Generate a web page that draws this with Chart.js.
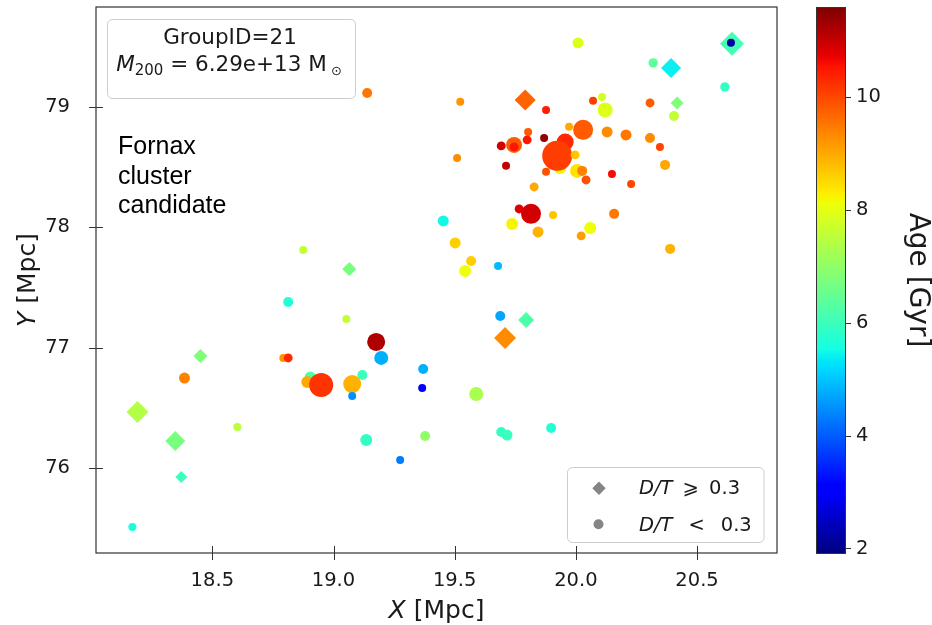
<!DOCTYPE html>
<html>
<head>
<meta charset="utf-8">
<script src="https://cdn.jsdelivr.net/npm/chart.js@4.4.1/dist/chart.umd.min.js"></script>
<style>
  html, body { margin: 0; padding: 0; background: #fff; }
  #wrap { width: 932px; height: 625px; }
</style>
</head>
<body>
<div id="wrap"><canvas id="group-chart" width="932" height="625"></canvas></div>
<script>
// Group 21 (Fornax cluster candidate): galaxy positions, coloured by stellar age

// disc galaxies, D/T >= 0.3 (diamonds)
const discX = [20.644, 20.393, 19.791, 20.418, 19.795, 19.708, 19.065, 18.451, 18.191, 18.347, 18.372];
const discY = [79.524, 79.324, 79.058, 79.033, 77.229, 77.080, 77.653, 76.930, 76.465, 76.224, 75.924];
const discAge = [6.1, 5.4, 9.7, 6.8, 6.2, 9.3, 6.7, 6.8, 7.4, 6.7, 6.0];
const discMass = [144, 100, 110, 42, 64, 121, 49, 49, 121, 100, 36]; // 1e9 Msun

// spheroid galaxies, D/T < 0.3 (circles), in plotting order
const sphX = [
  20.009, 20.319, 20.640, 20.615, 19.523, 19.877, 20.071, 20.108, 20.121, 20.306,
  20.405, 19.972, 20.030, 20.129, 20.207, 20.306, 20.347, 20.368, 19.510, 19.803,
  19.799, 19.869, 19.692, 19.745, 19.745, 19.935, 19.956, 19.923, 19.997, 19.712,
  19.877, 20.005, 20.026, 20.042, 20.149, 20.228, 19.828, 19.766, 19.815, 19.906,
  20.158, 19.453, 19.737, 19.844, 20.059, 20.022, 19.502, 20.389, 19.568, 19.543,
  19.679, 19.688, 19.370, 19.366, 19.589, 19.378, 19.692, 19.716, 19.898, 19.275,
  18.875, 18.813, 19.053, 19.176, 19.197, 18.385, 18.793, 18.813, 18.904, 18.892,
  18.949, 19.119, 19.077, 19.077, 18.603, 19.135, 18.170, 19.139
];
const sphY = [
  79.532, 79.366, 79.532, 79.166, 79.042, 78.975, 79.050, 79.083, 78.975, 79.033,
  78.925, 78.834, 78.809, 78.792, 78.767, 78.742, 78.667, 78.518, 78.576, 78.792,
  78.726, 78.742, 78.676, 78.684, 78.667, 78.493, 78.709, 78.593, 78.601, 78.510,
  78.460, 78.468, 78.468, 78.393, 78.443, 78.360, 78.335, 78.152, 78.111, 78.102,
  78.111, 78.052, 78.027, 77.961, 77.994, 77.928, 77.869, 77.820, 77.720, 77.637,
  77.678, 77.263, 76.822, 76.664, 76.614, 76.265, 76.298, 76.273, 76.332, 76.066,
  77.811, 77.379, 77.238, 77.047, 76.914, 76.747, 76.914, 76.914, 76.756, 76.714,
  76.689, 76.772, 76.697, 76.598, 76.340, 76.232, 75.509, 79.116
];
const sphAge = [
  7.9, 6.4, 2.2, 5.9, 9.2, 10.4, 10.1, 7.8, 7.9, 9.8,
  7.6, 9.0, 9.8, 9.3, 9.5, 9.3, 10.0, 9.0, 9.3, 9.8,
  10.5, 11.4, 10.9, 9.8, 10.5, 8.2, 10.3, 10.1, 8.7, 11.0,
  9.9, 8.4, 9.4, 9.9, 10.6, 10.0, 9.0, 10.8, 10.9, 8.7,
  9.5, 5.5, 8.2, 8.9, 8.1, 9.1, 8.6, 8.9, 8.6, 8.1,
  4.9, 4.7, 4.8, 3.0, 7.3, 7.0, 5.9, 6.0, 5.7, 4.3,
  7.6, 5.7, 7.6, 11.2, 4.8, 9.4, 9.2, 10.3, 6.2, 9.0,
  10.2, 6.0, 8.9, 4.5, 7.5, 5.9, 5.6, 9.5
];
const sphMass = [
  30, 22, 16, 22, 16, 16, 16, 16, 56, 20,
  25, 16, 100, 30, 30, 25, 16, 25, 16, 16,
  20, 16, 20, 64, 20, 36, 72, 225, 20, 16,
  16, 49, 25, 20, 16, 16, 20, 20, 100, 16,
  25, 30, 36, 30, 36, 20, 30, 25, 25, 36,
  16, 25, 25, 16, 49, 25, 25, 30, 25, 16,
  16, 25, 16, 81, 49, 30, 16, 20, 30, 36,
  144, 25, 81, 16, 16, 36, 16, 25
];

const xTicks = [18.5, 19.0, 19.5, 20.0, 20.5];
const yTicks = [76, 77, 78, 79];
const ageTicks = [2, 4, 6, 8, 10];
const ageRange = [1.92, 11.59];

// matplotlib 'jet'
function jet(t) {
  t = Math.min(1, Math.max(0, t));
  const seg = pts => {
    for (let i = 1; i < pts.length; i++) {
      if (t <= pts[i][0]) {
        const a = pts[i - 1], b = pts[i];
        return a[1] + (b[1] - a[1]) * (t - a[0]) / (b[0] - a[0]);
      }
    }
    return pts[pts.length - 1][1];
  };
  const r = seg([[0, 0], [0.35, 0], [0.66, 1], [0.89, 1], [1, 0.5]]);
  const g = seg([[0, 0], [0.125, 0], [0.375, 1], [0.64, 1], [0.91, 0], [1, 0]]);
  const b = seg([[0, 0.5], [0.11, 1], [0.34, 1], [0.65, 0], [1, 0]]);
  return `rgb(${Math.round(r * 255)},${Math.round(g * 255)},${Math.round(b * 255)})`;
}
const ageColor = a => jet((a - ageRange[0]) / (ageRange[1] - ageRange[0]));

const toPoints = (xs, ys, mass) => xs.map((v, i) => ({ x: v, y: ys[i], r: Math.sqrt(mass[i]) }));

const FONT = 'DejaVu Sans';
const TXT = '#1a1a1a';

// draw a line made of several font runs
function drawRuns(ctx, runs, x, y, align) {
  let total = 0;
  runs.forEach(r => { ctx.font = r.font; r.w = ctx.measureText(r.text).width; total += r.w; });
  let cx = align === 'center' ? x - total / 2 : x;
  ctx.textAlign = 'left';
  ctx.textBaseline = 'alphabetic';
  runs.forEach(r => { ctx.font = r.font; ctx.fillText(r.text, cx, y + (r.dy || 0)); cx += r.w; });
}

function roundBox(ctx, x0, y0, x1, y1, rad) {
  ctx.beginPath();
  ctx.roundRect(x0, y0, x1 - x0, y1 - y0, rad);
  ctx.fillStyle = 'rgba(255,255,255,0.8)';
  ctx.fill();
  ctx.strokeStyle = '#cccccc';
  ctx.lineWidth = 1;
  ctx.stroke();
}

const decor = {
  id: 'decor',
  afterDraw(chart) {
    const { ctx, chartArea: a, scales } = chart;
    ctx.save();

    // axes frame + in/out tick marks
    ctx.strokeStyle = '#333';
    ctx.lineWidth = 1.2;
    ctx.strokeRect(a.left, a.top, a.right - a.left, a.bottom - a.top);
    ctx.lineWidth = 1;
    ctx.beginPath();
    xTicks.forEach(v => {
      const px = Math.round(scales.x.getPixelForValue(v)) + 0.5;
      ctx.moveTo(px, a.bottom - 7); ctx.lineTo(px, a.bottom + 7);
    });
    yTicks.forEach(v => {
      const py = Math.round(scales.y.getPixelForValue(v)) + 0.5;
      ctx.moveTo(a.left - 7, py); ctx.lineTo(a.left + 7, py);
    });
    ctx.stroke();

    // axis titles
    ctx.fillStyle = TXT;
    drawRuns(ctx, [
      { text: 'X', font: `oblique 25px "${FONT}"` },
      { text: ' [Mpc]', font: `25px "${FONT}"` }
    ], (a.left + a.right) / 2, 618, 'center');
    ctx.save();
    ctx.translate(35, (a.top + a.bottom) / 2);
    ctx.rotate(-Math.PI / 2);
    drawRuns(ctx, [
      { text: 'Y', font: `oblique 25px "${FONT}"` },
      { text: ' [Mpc]', font: `25px "${FONT}"` }
    ], 0, 0, 'center');
    ctx.restore();

    // group info box
    roundBox(ctx, 107.5, 19.5, 355.5, 98.5, 5);
    ctx.fillStyle = TXT;
    ctx.font = `21.5px "${FONT}"`;
    ctx.textAlign = 'center';
    ctx.fillText('GroupID=21', 230, 44);
    drawRuns(ctx, [
      { text: 'M', font: `oblique 21.5px "${FONT}"` },
      { text: '200', font: `15px "${FONT}"`, dy: 4 },
      { text: ' = 6.29e+13 M', font: `21.5px "${FONT}"` },
      { text: ' \u2299', font: `13px "${FONT}"`, dy: 4 }
    ], 229, 70.5, 'center');

    // cluster note
    ctx.font = '25px "Liberation Sans"';
    ctx.textAlign = 'left';
    ctx.fillStyle = '#000';
    ['Fornax', 'cluster', 'candidate'].forEach((s, i) => ctx.fillText(s, 118, 154 + i * 29.5));

    // morphology legend
    roundBox(ctx, 567.5, 467.5, 764, 542.5, 5);
    ctx.fillStyle = '#858585';
    ctx.beginPath();
    ctx.moveTo(599, 481.6); ctx.lineTo(605.7, 488.3); ctx.lineTo(599, 495); ctx.lineTo(592.3, 488.3);
    ctx.closePath(); ctx.fill();
    ctx.beginPath(); ctx.arc(598.5, 524.3, 5, 0, Math.PI * 2); ctx.fill();
    ctx.fillStyle = TXT;
    drawRuns(ctx, [
      { text: 'D/T', font: `oblique 19.5px "${FONT}"` },
      { text: ' \u2009\u2A7E\u2009 0.3', font: `19.5px "${FONT}"` }
    ], 639, 494, 'left');
    drawRuns(ctx, [
      { text: 'D/T', font: `oblique 19.5px "${FONT}"` },
      { text: '\u2002 <\u2002 0.3', font: `19.5px "${FONT}"` }
    ], 639, 530.5, 'left');

    // colour bar
    const cbL = 816, cbR = 845, cbT = a.top, cbB = a.bottom;
    for (let py = cbT; py < cbB; py++) {
      ctx.fillStyle = jet((cbB - py - 0.5) / (cbB - cbT));
      ctx.fillRect(cbL, py, cbR - cbL, 1);
    }
    ctx.strokeStyle = '#333';
    ctx.lineWidth = 1;
    ctx.strokeRect(cbL + 0.5, cbT + 0.5, cbR - cbL, cbB - cbT);
    ctx.fillStyle = TXT;
    ctx.font = `19.5px "${FONT}"`;
    ctx.textAlign = 'left';
    ctx.textBaseline = 'middle';
    ageTicks.forEach(v => {
      const py = cbB - (v - ageRange[0]) / (ageRange[1] - ageRange[0]) * (cbB - cbT);
      ctx.beginPath();
      ctx.moveTo(cbR, Math.round(py) + 0.5); ctx.lineTo(cbR + 6, Math.round(py) + 0.5);
      ctx.stroke();
      ctx.fillText(String(v), cbR + 11, py);
    });
    ctx.save();
    ctx.translate(917, (cbT + cbB) / 2);
    ctx.rotate(Math.PI / 2);
    ctx.font = `28px "${FONT}"`;
    ctx.textAlign = 'center';
    ctx.textBaseline = 'middle';
    ctx.fillText('Age [Gyr]', 0, 0);
    ctx.restore();

    ctx.restore();
  }
};

const groupChart = new Chart(document.getElementById('group-chart'), {
  type: 'bubble',
  data: {
    datasets: [
      {
        label: 'D/T < 0.3',
        data: toPoints(sphX, sphY, sphMass),
        pointStyle: 'circle',
        backgroundColor: c => ageColor(sphAge[c.dataIndex]),
        borderWidth: 0
      },
      {
        label: 'D/T >= 0.3',
        data: toPoints(discX, discY, discMass),
        pointStyle: 'rectRot',
        backgroundColor: c => ageColor(discAge[c.dataIndex]),
        borderWidth: 0
      }
    ]
  },
  options: {
    responsive: false,
    animation: false,
    events: [],
    layout: { autoPadding: false, padding: { left: 0, right: 155, top: 7, bottom: 0 } },
    scales: {
      x: {
        type: 'linear',
        min: 18.02,
        max: 20.83,
        afterBuildTicks: s => { s.ticks = xTicks.map(v => ({ value: v })); },
        afterFit: s => { s.height = 72; s.paddingLeft = 0; s.paddingRight = 0; },
        grid: { display: false },
        border: { display: false },
        ticks: {
          padding: 8,
          maxRotation: 0,
          color: TXT,
          font: { family: FONT, size: 19.5 },
          callback: v => v.toFixed(1)
        }
      },
      y: {
        type: 'linear',
        min: 75.293,
        max: 79.83,
        afterBuildTicks: s => { s.ticks = yTicks.map(v => ({ value: v })); },
        afterFit: s => { s.width = 96; s.paddingTop = 0; s.paddingBottom = 0; },
        grid: { display: false },
        border: { display: false },
        ticks: {
          padding: 18,
          color: TXT,
          font: { family: FONT, size: 19.5 },
          callback: v => String(v)
        }
      }
    },
    plugins: {
      legend: { display: false },
      tooltip: { enabled: false }
    }
  },
  plugins: [decor]
});
</script>
</body>
</html>
